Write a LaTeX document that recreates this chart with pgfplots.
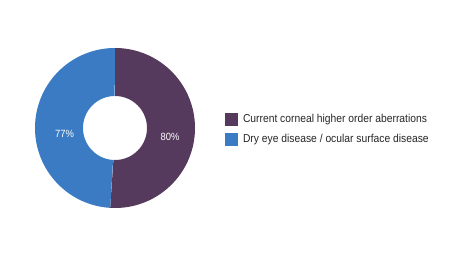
\documentclass[border=0pt]{standalone}
\usepackage{pgfplots}
\pgfplotsset{compat=1.18}
\usepackage{fontspec}
\setmainfont{Liberation Sans}[FakeStretch=0.9]
\definecolor{cpurple}{HTML}{553A5E}
\definecolor{cblue}{HTML}{3A7BC4}
% slice values (percent)
\def\vA{80}% Current corneal higher order aberrations
\def\vB{77}% Dry eye disease / ocular surface disease
\pgfmathsetmacro\tot{\vA+\vB}
\pgfmathsetmacro\fA{\vA/\tot}
\pgfmathsetmacro\aS{90}
\pgfmathsetmacro\aM{90-360*\fA}
\pgfmathsetmacro\aE{-270}
\def\cx{115}\def\cy{126}\def\Ro{80}\def\Ri{32}
\begin{document}
\begin{tikzpicture}
\begin{axis}[
  scale only axis, width=454bp, height=254bp,
  xmin=0, xmax=454, ymin=0, ymax=254,
  axis lines=none, clip=false,
  legend style={at={(axis cs:225,141)}, anchor=north west, draw=none, fill=none,
    inner sep=0pt, outer sep=0pt, row sep=7bp,
    font=\fontsize{11.5}{13}\selectfont, text=black!85,
    nodes={inner sep=0pt, text height=8bp, text depth=2bp}},
  legend cell align=left,
  legend image code/.code={\fill[#1] (0bp,-6.5bp) rectangle (13bp,6.5bp);},
]
\path (rel axis cs:0,0) rectangle (rel axis cs:1,1);
\addplot[fill=cpurple, draw=none, domain=0:2, samples=601, variable=\t]
  ({\cx+(\t<=1 ? \Ro : \Ri)*cos(\t<=1 ? \aS+(\aM-\aS)*\t : \aM-(\aM-\aS)*(\t-1))},
   {\cy+(\t<=1 ? \Ro : \Ri)*sin(\t<=1 ? \aS+(\aM-\aS)*\t : \aM-(\aM-\aS)*(\t-1))});
\addlegendentry{\hspace{5bp}Current corneal higher order aberrations}
\addplot[fill=cblue, draw=none, domain=0:2, samples=601, variable=\t]
  ({\cx+(\t<=1 ? \Ro : \Ri)*cos(\t<=1 ? \aM+(\aE-\aM)*\t : \aE-(\aE-\aM)*(\t-1))},
   {\cy+(\t<=1 ? \Ro : \Ri)*sin(\t<=1 ? \aM+(\aE-\aM)*\t : \aE-(\aE-\aM)*(\t-1))});
\addlegendentry{\hspace{5bp}Dry eye disease / ocular surface disease}
\node[text=white, font=\fontsize{10.5}{12}\selectfont] at (axis cs:64.5,120) {77\%};
\node[text=white, font=\fontsize{10.5}{12}\selectfont] at (axis cs:170,117.5) {80\%};
\end{axis}
\end{tikzpicture}
\end{document}
